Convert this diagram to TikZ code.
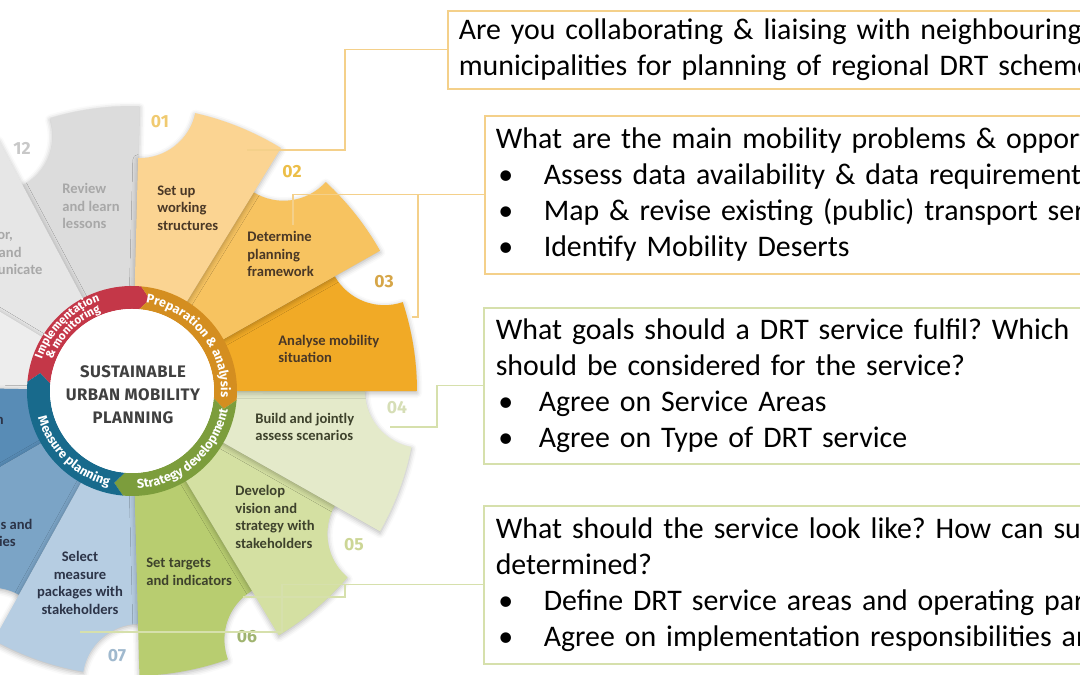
\documentclass[tikz,border=0pt]{standalone}
\usepackage{fontspec}
\setmainfont{Carlito}
\newfontfamily\dinfont{Fira Sans}
\newfontfamily\dinspaced[LetterSpace=3]{Fira Sans}
\usetikzlibrary{decorations.text,shadows.blur}
\frenchspacing

% petal colours
\definecolor{p01}{RGB}{251,212,146}
\definecolor{p02}{RGB}{247,195,96}
\definecolor{p03}{RGB}{241,170,38}
\definecolor{p04}{RGB}{228,234,202}
\definecolor{p05}{RGB}{212,224,162}
\definecolor{p06}{RGB}{184,205,112}
\definecolor{p07}{RGB}{182,205,226}
\definecolor{p08}{RGB}{123,164,198}
\definecolor{p09}{RGB}{88,140,182}
\definecolor{p10}{RGB}{237,237,237}
\definecolor{p11}{RGB}{230,230,230}
\definecolor{p12}{RGB}{220,220,220}
% number colours
\definecolor{n01}{RGB}{240,202,112}
\definecolor{n02}{RGB}{236,190,72}
\definecolor{n03}{RGB}{214,166,72}
\definecolor{n04}{RGB}{214,222,182}
\definecolor{n05}{RGB}{204,214,150}
\definecolor{n06}{RGB}{160,180,112}
\definecolor{n07}{RGB}{160,185,206}
\definecolor{n12}{RGB}{200,200,200}
% ring colours
\definecolor{ringred}{RGB}{196,55,72}
\definecolor{ringorange}{RGB}{212,142,32}
\definecolor{ringgreen}{RGB}{124,157,60}
\definecolor{ringblue}{RGB}{24,106,140}
% text and line colours
\definecolor{torange}{RGB}{74,56,38}
\definecolor{tgreen}{RGB}{62,66,44}
\definecolor{tblue}{RGB}{44,52,72}
\definecolor{tgrey}{RGB}{168,168,168}
\definecolor{lorange}{RGB}{244,208,138}
\definecolor{lgreen}{RGB}{214,224,172}
\definecolor{hubtext}{RGB}{64,64,64}

\newcommand{\qitem}[2]{\makebox[#1][l]{\hspace*{0.05cm}\textbullet}#2}

\tikzset{
  petal/.style={fill=#1, blur shadow={shadow xshift=0pt, shadow yshift=-1pt, shadow blur radius=3pt, shadow opacity=30}},
  petaltext/.style={font=\bfseries\fontsize{8.3}{10}\selectfont, text=#1, align=left, inner sep=0pt, anchor=west},
  stepno/.style={font=\dinfont\bfseries\fontsize{10}{12}\selectfont, text=#1, inner sep=0pt},
  qbox/.style={draw=#1, line width=0.9pt, anchor=north west, text width=20cm, inner xsep=0.22cm, inner ysep=0pt, align=left, font=\fontsize{17}{20.5}\selectfont},
  link/.style={draw=#1, line width=0.8pt},
  ringlabel/.style={decorate, decoration={text along path, text align=center, text color=white, text={|\dinfont\bfseries\fontsize{7.2}{8}\selectfont|#1}}},
  ringlabelsmall/.style={decorate, decoration={text along path, text align=center, text color=white, text={|\dinfont\bfseries\fontsize{6.6}{7}\selectfont|#1}}}
}

\begin{document}
\begin{tikzpicture}[x=0.02cm, y=0.02cm]
  \useasboundingbox (0,0) rectangle (1080,675);
  \clip (0,0) rectangle (1080,675);

  % petals of the cycle, 12 first so that 01 lies on top
  \begin{scope}[shift={(132,284)}]
    \foreach \s/\t/\c in {-242/-271.5/p12, -211/-242/p11, -181/-211/p10, -150/-181/p09,
                          -119/-150/p08, -88.5/-119/p07, -59/-88.5/p06, -29.5/-59/p05,
                          0/-29.5/p04, 29.5/0/p03, 58.5/29.5/p02, 88.5/58.5/p01}
      \fill[petal=\c] (\s:90) -- (\s:233)
        arc[start angle=\s+180, end angle=\s+259.3, radius=57]
        arc[start angle=\s-11.33, end angle=\t, radius=285]
        -- (\t:90) arc[start angle=\t, end angle=\s, radius=90] -- cycle;

    % ring of the four phases
    \foreach \s/\t/\c in {175/85/ringred, 85/-5/ringorange, -5/-95/ringgreen, -95/-185/ringblue}
      \fill[\c] (\s:105) arc[start angle=\s, end angle=\t, radius=105]
        -- (\t-6:93.5) -- (\t:82) arc[start angle=\t, end angle=\s, radius=82]
        -- (\s-6:93.5) -- cycle;
    \fill[white] (0,0) circle (82);

    % phase names along the ring
    \path[ringlabelsmall={Implementation}] (174:95.5) arc[start angle=174, end angle=96, radius=95.5];
    \path[ringlabelsmall={{\&} monitoring}] (174:85.3) arc[start angle=174, end angle=96, radius=85.3];
    \path[ringlabel={Preparation {\&} analysis}] (92:89) arc[start angle=92, end angle=-15, radius=89];
    \path[ringlabel={Strategy development}] (-102:97.8) arc[start angle=-102, end angle=4, radius=97.8];
    \path[ringlabel={Measure planning}] (173:97.8) arc[start angle=173, end angle=279, radius=97.8];
  \end{scope}

  \node[font=\dinspaced\bfseries\fontsize{9.5}{13}\selectfont, text=hubtext, align=center] (hub) at (133,280)
    {SUSTAINABLE\\URBAN MOBILITY\\PLANNING};

  % step texts
  \node[petaltext=torange] (t01) at (157,467) {Set up\\working\\structures};
  \node[petaltext=torange] (t02) at (247,421) {Determine\\planning\\framework};
  \node[petaltext=torange] (t03) at (278,326) {Analyse mobility\\situation};
  \node[petaltext=tgreen] (t04) at (255,248) {Build and jointly\\assess scenarios};
  \node[petaltext=tgreen] (t05) at (235,158) {Develop\\vision and\\strategy with\\stakeholders};
  \node[petaltext=tgreen] (t06) at (146,103) {Set targets\\and indicators};
  \node[petaltext=tblue, align=center, anchor=center] (t07) at (80,92) {Select\\measure\\packages with\\stakeholders};
  \node[petaltext=tblue] (t08) at (-76,141) {Agree actions and\\responsibilities};
  \node[petaltext=tblue] (t09) at (-123,246) {Prepare for adoption\\and financing};
  \node[petaltext=tgrey] (t11) at (-40,423) {Monitor,\\adapt and\\communicate};
  \node[petaltext=tgrey] (t12) at (62,469) {Review\\and learn\\lessons};

  % step numbers
  \node[stepno=n01] (no01) at (160,553) {01};
  \node[stepno=n02] (no02) at (292,503) {02};
  \node[stepno=n03] (no03) at (384,393) {03};
  \node[stepno=n04] (no04) at (397,267) {04};
  \node[stepno=n05] (no05) at (354,130) {05};
  \node[stepno=n06] (no06) at (247,38) {06};
  \node[stepno=n07] (no07) at (117,19) {07};
  \node[stepno=n12] (no12) at (22,527) {12};

  % question boxes
  \node[qbox=lorange, minimum height=1.56cm] (q1) at (447,665)
    {Are you collaborating \& liaising with neighbouring\\
     municipalities for planning of regional DRT schemes?};
  \node[qbox=lorange, minimum height=3.16cm] (q2) at (484,560)
    {What are the main mobility problems \& opportunities?\\
     \qitem{0.96cm}{Assess data availability \& data requirements}\\
     \qitem{0.96cm}{Map \& revise existing (public) transport services}\\
     \qitem{0.96cm}{Identify Mobility Deserts}};
  \node[qbox=lgreen, minimum height=3.12cm, inner xsep=0.24cm] (q3) at (483,368)
    {What goals should a DRT service fulfil? Which areas\\
     should be considered for the service?\\
     \qitem{0.86cm}{Agree on Service Areas}\\
     \qitem{0.86cm}{Agree on Type of DRT service}};
  \node[qbox=lgreen, minimum height=3.16cm, inner xsep=0.24cm] (q4) at (483,170)
    {What should the service look like? How can such\\
     determined?\\
     \qitem{0.96cm}{Define DRT service areas and operating parameters}\\
     \qitem{0.96cm}{Agree on implementation responsibilities and}};

  % connectors from the boxes to the steps
  \coordinate (k1) at (345,525);
  \coordinate (e01) at (247,525);
  \draw[link=lorange] (q1.west) -| (k1) -- (e01);

  \coordinate (e02) at (293,450);
  \coordinate (k2) at (418,358);
  \coordinate (e03) at (412,358);
  \draw[link=lorange] (q2.west) -| (e02);
  \draw[link=lorange] (k2 |- q2.west) -- (k2) -- (e03);

  \coordinate (k3) at (437,248);
  \coordinate (e04) at (390,248);
  \draw[link=lgreen] (q3.west) -| (k3) -- (e04);

  \coordinate (k4) at (282,43);
  \coordinate (e06) at (80,43);
  \coordinate (k5) at (345,78);
  \coordinate (e05) at (243,78);
  \draw[link=lgreen] (q4.west) -| (k4) -- (e06);
  \draw[link=lgreen] (k5 |- q4.west) -- (k5) -- (e05);
\end{tikzpicture}
\end{document}
